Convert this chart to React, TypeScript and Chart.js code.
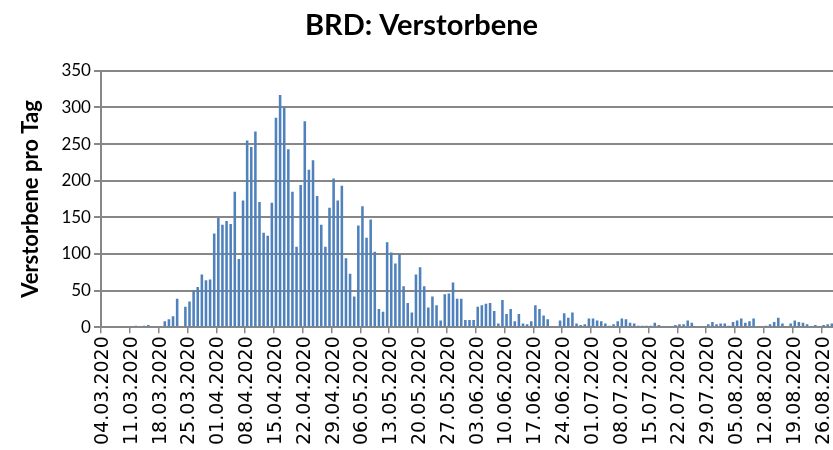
import { useEffect, useRef } from "react";
import { Chart, registerables } from "chart.js";

Chart.register(...registerables);

// Daily deaths (Germany), 04.03.2020 – 29.08.2020
const marchDeaths = [
  0, 0, 0, 0, 0, 1, 0, 1, 2, 0, 2, 3, 1, 0, 0, 8, 11, 15, 39, 0, 28, 35, 50, 55,
  72, 64, 65, 128,
];
const aprilDeaths = [
  149, 140, 145, 141, 185, 93, 173, 255, 246, 267, 171, 129, 125, 170, 286, 317,
  300, 243, 185, 110, 194, 281, 215, 228, 179, 140, 110, 163, 203, 173,
];
const mayDeaths = [
  193, 94, 73, 42, 139, 165, 122, 147, 103, 25, 21, 116, 102, 87, 100, 56, 33,
  20, 72, 82, 56, 27, 42, 30, 9, 45, 46, 61, 39, 39, 10,
];
const juneDeaths = [
  10, 10, 28, 30, 32, 33, 22, 5, 37, 18, 25, 8, 18, 5, 4, 8, 30, 25, 16, 11, 0,
  1, 9, 19, 13, 20, 5, 3, 4, 12,
];
const julyDeaths = [
  12, 9, 8, 5, 2, 4, 8, 12, 11, 6, 5, 2, 2, 2, 2, 6, 3, 1, 1, 1, 3, 4, 4, 9, 6,
  1, 0, 1, 4, 7, 4,
];
const augustDeaths = [
  5, 5, 2, 7, 9, 12, 6, 8, 12, 1, 0, 2, 4, 7, 13, 5, 1, 5, 9, 7, 6, 4, 1, 3, 1,
  3, 4, 5, 2,
];

const deaths = [
  ...marchDeaths,
  ...aprilDeaths,
  ...mayDeaths,
  ...juneDeaths,
  ...julyDeaths,
  ...augustDeaths,
];

const startDate = { day: 4, month: 3, year: 2020 };
const monthLengths = [31, 29, 31, 30, 31, 30, 31, 31, 30, 31, 30, 31];

function buildCategories(count: number): string[] {
  const out: string[] = [];
  let d = startDate.day;
  let m = startDate.month;
  for (let i = 0; i < count; i++) {
    out.push(
      String(d).padStart(2, "0") + "." + String(m).padStart(2, "0") + "." + startDate.year
    );
    d++;
    if (d > monthLengths[m - 1]) {
      d = 1;
      m++;
    }
  }
  return out;
}

const categories = buildCategories(deaths.length);
const labelEvery = 7;

const GRID = "#878787";

export default function App() {
  const ref = useRef<HTMLCanvasElement>(null);

  useEffect(() => {
    const chart = new Chart(ref.current!, {
      type: "bar",
      data: {
        labels: categories,
        datasets: [
          {
            data: deaths,
            backgroundColor: "#4f81bd",
            borderWidth: 0,
            barPercentage: 0.62,
            categoryPercentage: 1,
          },
        ],
      },
      options: {
        responsive: false,
        animation: false,
        layout: { padding: { left: 5, right: 0, top: 0, bottom: 2 } },
        plugins: {
          legend: { display: false },
          tooltip: { enabled: false },
          title: {
            display: true,
            text: "BRD: Verstorbene",
            color: "#000",
            font: { family: "Lato", size: 29, weight: "bold" },
            padding: { top: 8, bottom: 28 },
          },
        },
        scales: {
          x: {
            afterFit: (scale: any) => {
              scale.paddingRight = 0;
            },
            grid: {
              offset: true,
              drawOnChartArea: false,
              drawTicks: true,
              tickLength: 6,
              lineWidth: 1.5,
              color: (c: any) =>
                c.index % labelEvery === 0 ? GRID : "rgba(0,0,0,0)",
            },
            border: { color: GRID, width: 2 },
            ticks: {
              autoSkip: false,
              minRotation: 90,
              maxRotation: 90,
              color: "#000",
              padding: 3,
              font: { family: "DejaVu Sans", size: 19 },
              callback: (_v: any, i: number) =>
                i % labelEvery === 0 ? categories[i] : "",
            },
          },
          y: {
            min: 0,
            max: 350,
            ticks: {
              stepSize: 50,
              color: "#000",
              padding: 3,
              font: { family: "Lato", size: 17 },
            },
            grid: { color: GRID, lineWidth: 2, tickLength: 7 },
            border: { color: GRID, width: 2 },
            title: {
              display: true,
              text: "Verstorbene pro Tag",
              color: "#000",
              padding: { top: 13, bottom: 14 },
              font: { family: "Lato", size: 22, weight: "bold" },
            },
          },
        },
      },
    });
    return () => chart.destroy();
  }, []);

  return (
    <div
      style={{
        position: "fixed",
        left: 0,
        top: 0,
        width: 833,
        height: 450,
        overflow: "hidden",
        background: "#fff",
      }}
    >
      <canvas ref={ref} width={838} height={450} style={{ display: "block" }} />
    </div>
  );
}
